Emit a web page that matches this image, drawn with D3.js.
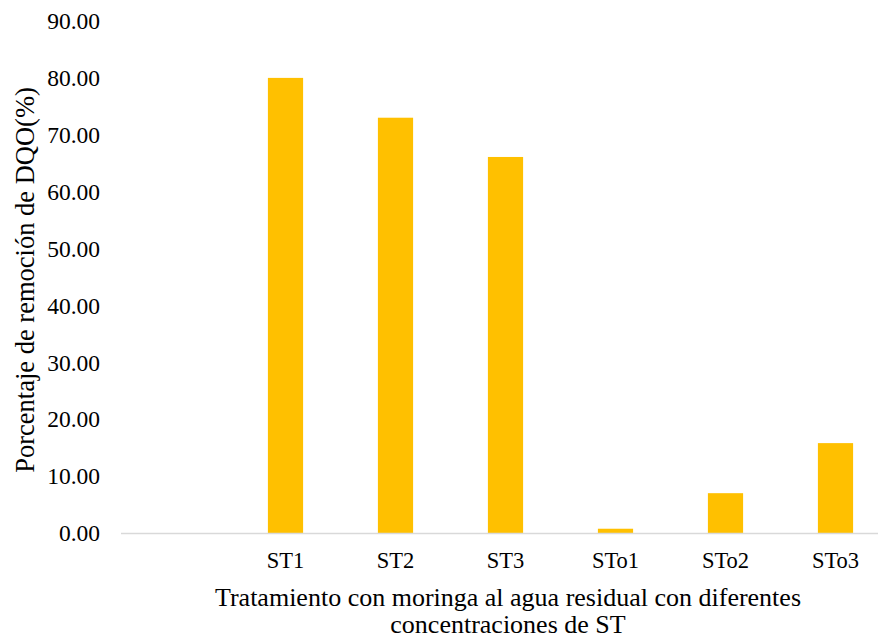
<!DOCTYPE html>
<html>
<head>
<meta charset="utf-8">
<script src="https://cdn.jsdelivr.net/npm/d3@7"></script>
<style>
  body { margin: 0; background: #fff; }
</style>
</head>
<body>
<svg id="chart" width="878" height="638"></svg>
<script>
// categories (first slot is empty in the original)
var categories = ["", "ST1", "ST2", "ST3", "STo1", "STo2", "STo3"];
var values = [null, 80.0, 73.0, 66.1, 0.75, 7.0, 15.8];
var yTicks = [0, 10, 20, 30, 40, 50, 60, 70, 80, 90];

var serif = "'Liberation Serif', 'Times New Roman', serif";

var data = categories.map(function (c, i) { return { cat: c, key: "c" + i, value: values[i] }; });

var svg = d3.select("#chart");

var x = d3.scaleBand()
  .domain(data.map(function (d) { return d.key; }))
  .range([120.5, 890.5])
  .paddingInner(0.68)
  .paddingOuter(0.34);

var y = d3.scaleLinear()
  .domain([0, 90])
  .range([533, 21]);

// y tick labels (no axis line, no gridlines)
svg.selectAll(".ytick")
  .data(yTicks)
  .enter().append("text")
  .attr("class", "ytick")
  .attr("x", 100)
  .attr("y", function (d) { return y(d); })
  .attr("dy", "0.35em")
  .attr("text-anchor", "end")
  .attr("font-family", serif)
  .attr("font-size", 23.5)
  .text(function (d) { return d3.format(".2f")(d); });

// bars
svg.selectAll(".bar")
  .data(data.filter(function (d) { return d.value != null; }))
  .enter().append("rect")
  .attr("class", "bar")
  .attr("x", function (d) { return x(d.key); })
  .attr("width", x.bandwidth())
  .attr("y", function (d) { return y(d.value); })
  .attr("height", function (d) { return y(0) - y(d.value); })
  .attr("fill", "#ffc000");

// x axis line
svg.append("line")
  .attr("x1", 121).attr("x2", 878)
  .attr("y1", y(0) + 0.5).attr("y2", y(0) + 0.5)
  .attr("stroke", "#d9d9d9")
  .attr("stroke-width", 1.5);

// x labels
svg.selectAll(".xlab")
  .data(data)
  .enter().append("text")
  .attr("class", "xlab")
  .attr("x", function (d) { return x(d.key) + x.bandwidth() / 2; })
  .attr("y", 568)
  .attr("text-anchor", "middle")
  .attr("font-family", serif)
  .attr("font-size", 22.5)
  .text(function (d) { return d.cat; });

// x title
svg.append("text")
  .attr("x", 508).attr("y", 606)
  .attr("text-anchor", "middle")
  .attr("font-family", serif)
  .attr("font-size", 26)
  .text("Tratamiento con moringa al agua residual con diferentes");
svg.append("text")
  .attr("x", 508).attr("y", 633)
  .attr("text-anchor", "middle")
  .attr("font-family", serif)
  .attr("font-size", 26)
  .text("concentraciones de ST");

// y title
svg.append("text")
  .attr("transform", "translate(34,280) rotate(-90)")
  .attr("text-anchor", "middle")
  .attr("font-family", serif)
  .attr("font-size", 26.5)
  .text("Porcentaje de remoción de DQO(%)");
</script>
</body>
</html>
